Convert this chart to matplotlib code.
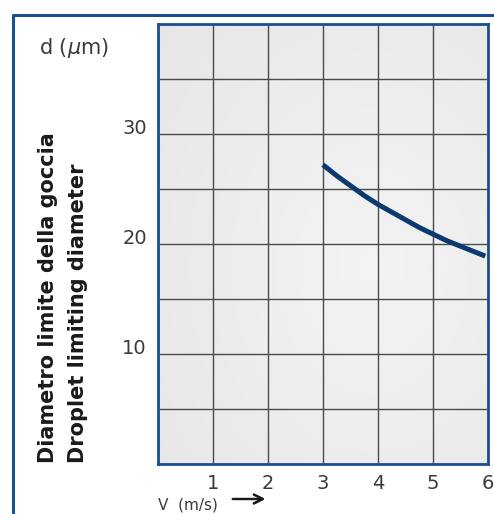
import numpy as np
import matplotlib.pyplot as plt
from matplotlib.lines import Line2D

# data
speed = [3.0, 3.25, 3.5, 3.75, 4.0, 4.25, 4.5, 4.75, 5.0, 5.25, 5.5, 5.75, 5.95]  # V (m/s)
diameter = [27.2, 26.2, 25.3, 24.4, 23.6, 22.9, 22.2, 21.5, 20.9, 20.3, 19.8, 19.3, 18.9]  # d (um)
x_ticks = [0, 1, 2, 3, 4, 5, 6]
x_labels = ['', '1', '2', '3', '4', '5', '6']
y_ticks = [0, 5, 10, 15, 20, 25, 30, 35, 40]
y_labels = ['', '', '10', '', '20', '', '30', '', '']

W, H = 494, 514
blue = '#1c4f8f'
navy = '#0b3a6f'
grey_txt = '#3a3a3a'

fig = plt.figure(figsize=(W / 100, H / 100), dpi=100)
ax = fig.add_axes([158 / W, 1 - 464 / H, 330 / W, 440 / H])

# light grey shaded background of the plot area
gx, gy = np.meshgrid(np.linspace(0, 1, 200), np.linspace(0, 1, 200))
r = np.sqrt((gx - 0.65) ** 2 + (gy - 0.45) ** 2)
shade = 0.955 - 0.06 * np.clip(r, 0, 1)
bg = np.dstack([shade, shade, shade])
ax.imshow(bg, extent=[0, 6, 0, 40], aspect='auto', origin='lower', zorder=0)

ax.plot(speed, diameter, color=navy, lw=3.6, solid_capstyle='butt',
        solid_joinstyle='round', zorder=3)

ax.set_xlim(0, 6)
ax.set_ylim(0, 40)
ax.set_xticks(x_ticks)
ax.set_xticklabels(x_labels)
ax.set_yticks(y_ticks)
ax.set_yticklabels(y_labels)
ax.grid(True, color='#4a4a4a', lw=1.0, zorder=1)
ax.set_axisbelow(False)
ax.tick_params(length=0, labelsize=14, labelcolor=grey_txt)
ax.tick_params(axis='x', pad=7)
ax.tick_params(axis='y', pad=8)
for lab in ax.get_yticklabels():
    lab.set_va('baseline')
for sp in ax.spines.values():
    sp.set_color(blue)
    sp.set_linewidth(2)
    sp.set_zorder(4)

# texts
fig.text(74 / W, 1 - 48 / H, r'd ($\mu$m)', fontsize=15, color=grey_txt,
         ha='center', va='center')
fig.text(48 / W, 1 - 463 / H, 'Diametro limite della goccia', fontsize=15,
         fontweight='bold', color='#1a1a1a', rotation=90, ha='center', va='bottom')
fig.text(78 / W, 1 - 463 / H, 'Droplet limiting diameter', fontsize=15,
         fontweight='bold', color='#1a1a1a', rotation=90, ha='center', va='bottom')
fig.text(158 / W, 1 - 505 / H, 'V  (m/s)', fontsize=11, color=grey_txt,
         ha='left', va='center')
fig.add_artist(plt.annotate('', xy=(268 / W, 1 - 499 / H), xytext=(230 / W, 1 - 499 / H),
                            xycoords='figure fraction',
                            arrowprops=dict(arrowstyle='->', color='#1a1a1a', lw=1.6,
                                            mutation_scale=16)))

# outer frame
fig.add_artist(Line2D([13 / W, 13 / W, 1.0], [0.0, 1 - 15 / H, 1 - 15 / H],
                      transform=fig.transFigure, color=blue, lw=2.2))

fig.savefig('out.png', dpi=100)
